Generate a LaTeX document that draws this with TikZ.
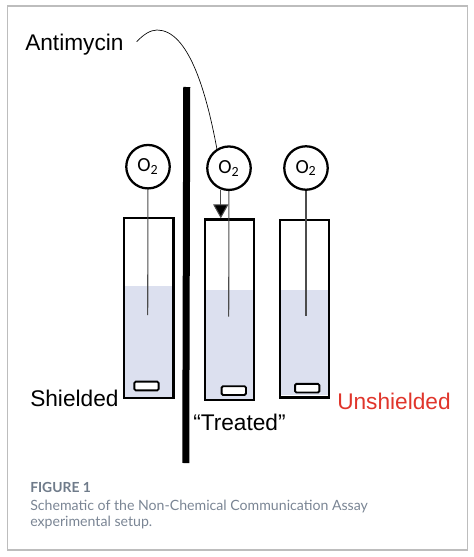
\documentclass[tikz,border=0pt]{standalone}
\usepackage{fontspec}
\setmainfont{Liberation Sans}
\newfontfamily\captionfont{Lato}
\newfontfamily\labelfont{Carlito}
\usetikzlibrary{positioning, arrows.meta}
\definecolor{asyliquid}{HTML}{DCE0EF}
\definecolor{asyframe}{HTML}{BDBDBD}
\definecolor{asyred}{HTML}{E0352B}
\definecolor{asycaption}{HTML}{7A8594}
\definecolor{asyhead}{HTML}{6F7B8A}
\tikzset{
  vialbox/.style={draw=black, line width=1.7pt, inner sep=0pt, minimum width=36.9pt},
  liquidbox/.style={fill=asyliquid, inner sep=0pt, minimum width=36.9pt},
  stirbar/.style={draw=black, fill=white, line width=1.4pt, rounded corners=1pt,
    inner sep=0pt, minimum width=18.2pt, minimum height=6.5pt},
  sensor/.style={circle, draw=black, fill=white, line width=1.7pt, inner sep=0pt,
    minimum size=32.6pt, font=\labelfont\fontsize{15}{17}\selectfont},
  probe/.style={draw=black!70, line width=0.8pt},
  biglabel/.style={anchor=base west, inner sep=0pt, font=\fontsize{17}{20}\selectfont},
  captext/.style={anchor=base west, inner sep=0pt, color=asycaption,
    font=\captionfont\fontsize{10.6}{12}\selectfont}
}
\begin{document}
\begin{tikzpicture}[x=0.75pt, y=-0.75pt]
      \useasboundingbox (0,0) rectangle (474,557);
      % Outer frame
      \draw[asyframe, line width=0.9pt] (7.5,6) rectangle (467.5,550);
      % Divider
      \coordinate (bartop) at (186.75,87);
      \coordinate (barbottom) at (185.75,463);
      \draw[black, line width=5.25pt] (bartop) -- (barbottom);
      % Liquid levels
      \node[liquidbox, minimum height=84.2pt] (liquidA) at (148.9,341.85) {};
      \node[liquidbox, minimum height=82.7pt] (liquidB) at (229.6,344.85) {};
      \node[liquidbox, minimum height=79.3pt] (liquidC) at (304.3,342.6) {};
      % Vials
      \node[vialbox, minimum height=135pt] (vialA) at (148.9,308) {};
      \node[vialbox, minimum height=135.4pt] (vialB) at (229.6,309.7) {};
      \node[vialbox, minimum height=133.3pt] (vialC) at (304.3,308.6) {};
      % Stir bars
      \node[stirbar] (stirA) at (146.5,386) {};
      \node[stirbar] (stirB) at (233.8,390.6) {};
      \node[stirbar] (stirC) at (307.2,388.2) {};
      % Oxygen sensors
      \node[sensor] (sensorA) at (148,166.7) {O\textsubscript{2}};
      \node[sensor] (sensorB) at (229,168.2) {O\textsubscript{2}};
      \node[sensor] (sensorC) at (306,168) {O\textsubscript{2}};
      \coordinate (tipA) at (147.7,315);
      \coordinate (tipB) at (228.7,316.7);
      \coordinate (tipC) at (306,315.7);
      \draw[probe] (sensorA) -- (tipA);
      \draw[probe] (sensorB) -- (tipB);
      \draw[probe] (sensorC) -- (tipC);
      % Labels
      \node[biglabel] (antimycin) at (25,50) {Antimycin};
      \node[biglabel] (shielded) at (30,406) {Shielded};
      \node[biglabel] (treated) at (193,430) {“Treated”};
      \node[biglabel, color=asyred] (unshielded) at (337,409) {Unshielded};
      % Dosing curve and arrow
      \coordinate (dosestart) at (136.7,41.7);
      \draw[black, line width=0.5pt] (dosestart) .. controls (143,35) and (150,30) .. (157,30)
            .. controls (188,30) and (206,90) .. (sensorB.122);
      \draw[-{Triangle[length=10.5pt, width=11.5pt, fill=black]}, draw=black!70, line width=0.8pt]
            (sensorB.249) -- (sensorB.249 |- vialB.north);
      % Caption
      \node[captext, color=asyhead, font=\captionfont\bfseries\fontsize{10.4}{12}\selectfont]
            (caphead) at (30,492.7) {FIGURE 1};
      \node[captext] (capone) at (30,510) {Schematic of the Non-Chemical Communication Assay};
      \node[captext] (captwo) at (30,526.7) {experimental setup.};
    \end{tikzpicture}
\end{document}
